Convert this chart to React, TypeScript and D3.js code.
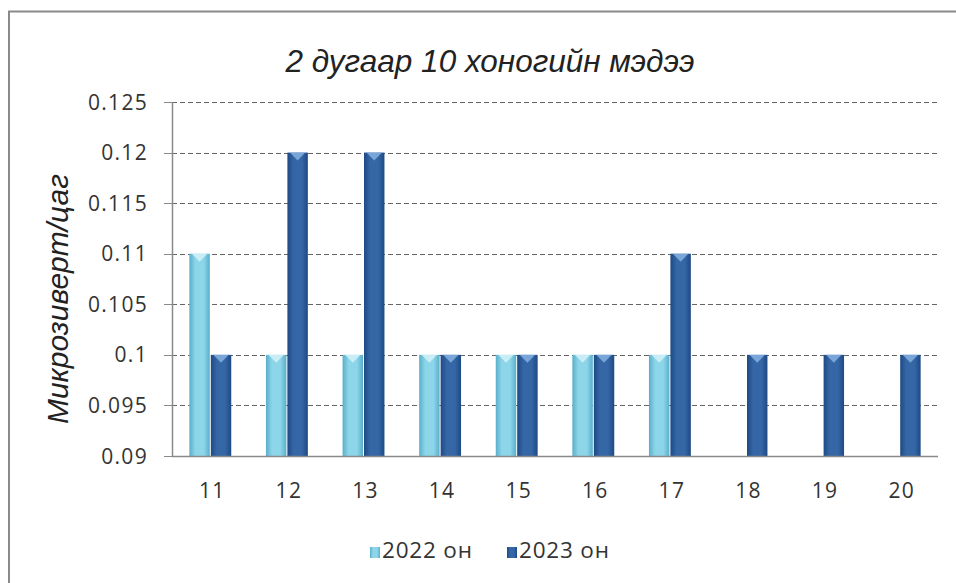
import React from "react";
import * as d3 from "d3";

const categories = ["11", "12", "13", "14", "15", "16", "17", "18", "19", "20"];
const seriesNames = ["2022 он", "2023 он"];
const values2022: (number | null)[] = [0.11, 0.1, 0.1, 0.1, 0.1, 0.1, 0.1, null, null, null];
const values2023: (number | null)[] = [0.1, 0.12, 0.12, 0.1, 0.1, 0.1, 0.11, 0.1, 0.1, 0.1];
const yTicks = [0.09, 0.095, 0.1, 0.105, 0.11, 0.115, 0.12, 0.125];
const title = "2 дугаар 10 хоногийн мэдээ";
const yTitle = "Микрозиверт/цаг";

const W = 956;
const H = 583;
const plot = { left: 172, right: 938, top: 102, bottom: 456 };

const palettes = [
  { edge: "#5aaecb", mid: "#8dd6e9", cap: "#d2f1f9" },
  { edge: "#1e4a84", mid: "#3566a6", cap: "#86b0e0" },
];

export default function App() {
  const x = d3
    .scaleBand<string>()
    .domain(categories)
    .range([plot.left, plot.right])
    .paddingInner(0.44)
    .paddingOuter(0.22);
  const xs = d3.scaleBand<string>().domain(seriesNames).range([0, x.bandwidth()]).padding(0);
  const y = d3.scaleLinear().domain([0.09, 0.125]).range([plot.bottom, plot.top]);
  const data = [values2022, values2023];
  const fmt = (v: number) => d3.format("")(+v.toFixed(3));

  return (
    <svg
      width={W}
      height={H}
      style={{ position: "absolute", left: 0, top: 0, background: "#fff" }}
      fontFamily="'Open Sans', sans-serif"
    >
      <defs>
        {palettes.map((p, i) => (
          <linearGradient key={i} id={`g${i}`} x1="0" x2="1" y1="0" y2="0">
            <stop offset="0" stopColor={p.edge} />
            <stop offset="0.3" stopColor={p.mid} />
            <stop offset="0.7" stopColor={p.mid} />
            <stop offset="1" stopColor={p.edge} />
          </linearGradient>
        ))}
      </defs>
      <rect x={9} y={11.5} width={W} height={H} fill="#fff" stroke="#8a8a8a" strokeWidth={2} />

      <text
        x={490}
        y={72}
        textAnchor="middle"
        fontFamily="'Liberation Sans', Arial, sans-serif"
        fontStyle="italic"
        fontSize={31.5}
        fill="#222"
      >
        {title}
      </text>

      <text
        transform={`translate(68,299) rotate(-90)`}
        textAnchor="middle"
        fontFamily="'Liberation Sans', Arial, sans-serif"
        fontStyle="italic"
        fontSize={30}
        fill="#222"
      >
        {yTitle}
      </text>

      {/* gridlines */}
      {yTicks.slice(1).map((t) => (
        <line
          key={`g${t}`}
          x1={plot.left}
          x2={plot.right}
          y1={Math.round(y(t)) + 0.5}
          y2={Math.round(y(t)) + 0.5}
          stroke="#666"
          strokeWidth={1}
          strokeDasharray="5,3"
        />
      ))}

      {/* y ticks & labels */}
      {yTicks.map((t) => (
        <g key={`t${t}`}>
          <line
            x1={plot.left - 8}
            x2={plot.left}
            y1={Math.round(y(t)) + 0.5}
            y2={Math.round(y(t)) + 0.5}
            stroke="#8a8a8a"
          />
          <text
            x={148}
            y={y(t) + 7.5}
            textAnchor="end"
            fontSize={21}
            letterSpacing={1.3}
            fill="#333"
          >
            {fmt(t)}
          </text>
        </g>
      ))}

      {/* bars */}
      {data.map((vals, si) =>
        vals.map((v, ci) => {
          if (v == null) return null;
          const x0 = (x(categories[ci]) as number) + (xs(seriesNames[si]) as number);
          const w = xs.bandwidth();
          const top = y(v);
          const bh = y(0.09) - top;
          const p = palettes[si];
          return (
            <g key={`b${si}-${ci}`}>
              <rect x={x0 + 0.5} y={top} width={w - 1} height={bh} fill={`url(#g${si})`} />
              <path
                d={`M${x0 + 3},${top} L${x0 + w - 3},${top} L${x0 + w / 2},${top + 8} Z`}
                fill={p.cap}
                opacity={0.85}
              />
            </g>
          );
        })
      )}

      {/* axes */}
      <line x1={plot.left + 0.5} x2={plot.left + 0.5} y1={plot.top} y2={plot.bottom} stroke="#8a8a8a" strokeWidth={1.5} />
      <line x1={plot.left} x2={plot.right} y1={plot.bottom + 0.5} y2={plot.bottom + 0.5} stroke="#8a8a8a" strokeWidth={1.5} />

      {categories.map((c) => (
        <text
          key={`x${c}`}
          x={(x(c) as number) + x.bandwidth() / 2 + 2}
          y={498}
          textAnchor="middle"
          fontSize={21}
          letterSpacing={1.3}
          fill="#333"
        >
          {c}
        </text>
      ))}

      {/* legend */}
      {seriesNames.map((s, i) => {
        const lx = i === 0 ? 370 : 507;
        return (
          <g key={`l${s}`}>
            <rect x={lx} y={547} width={10} height={11} fill={`url(#g${i})`} />
            <text x={lx + 12} y={558} fontSize={22.5} letterSpacing={0.8} fill="#333">
              {s}
            </text>
          </g>
        );
      })}
    </svg>
  );
}
